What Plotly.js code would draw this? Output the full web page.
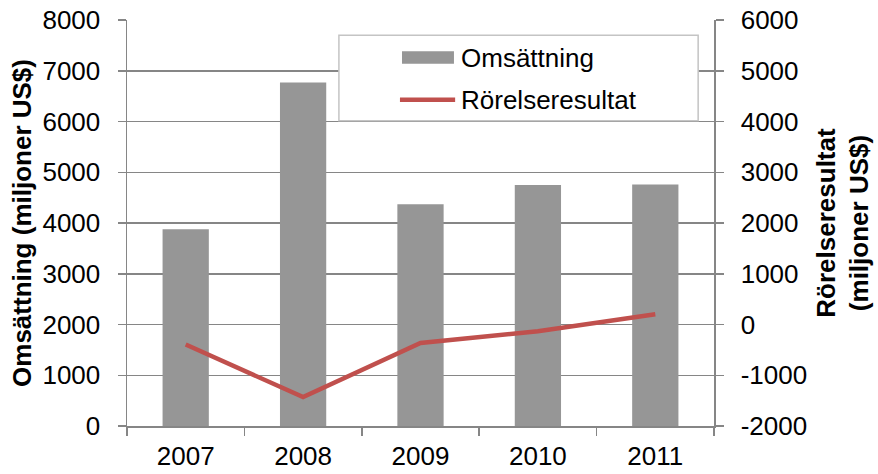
<!DOCTYPE html>
<html>
<head>
<meta charset="utf-8">
<script src="https://cdn.plot.ly/plotly-3.0.1.min.js"></script>
<style>html,body{margin:0;padding:0;background:#fff;}#chart{width:878px;height:474px;}</style>
</head>
<body>
<div id="chart"></div>
<script>
var years = ['2007', '2008', '2009', '2010', '2011'];
var omsattning = [3877, 6768, 4371, 4747, 4759];
var rorelseresultat = [-395, -1430, -363, -132, 203];
var leftTicks = [0, 1000, 2000, 3000, 4000, 5000, 6000, 7000, 8000];
var rightTicks = [-2000, -1000, 0, 1000, 2000, 3000, 4000, 5000, 6000];
var seriesNames = ['Omsättning', 'Rörelseresultat'];

var gray = '#868686';
var font = {family: 'Liberation Sans, Arial, sans-serif', size: 26, color: '#000'};

var traces = [
  {
    type: 'bar', x: years, y: omsattning, name: seriesNames[0],
    marker: {color: '#969696'}, yaxis: 'y', hoverinfo: 'skip', showlegend: false
  },
  {
    type: 'scatter', mode: 'lines', x: years, y: rorelseresultat, name: seriesNames[1],
    line: {color: '#C0504D', width: 4.5}, yaxis: 'y2', hoverinfo: 'skip', showlegend: false
  }
];

var layout = {
  width: 878, height: 474,
  margin: {l: 127, r: 164, t: 20, b: 48, pad: 0},
  paper_bgcolor: '#fff', plot_bgcolor: '#fff',
  font: font,
  bargap: 0.606,
  showlegend: false,
  xaxis: {
    type: 'category', tickson: 'boundaries', ticks: 'outside', ticklen: 8,
    tickcolor: gray, tickwidth: 1.5, showline: true, linecolor: gray, linewidth: 1.5,
    showgrid: false, tickfont: font, ticklabelstandoff: 6, fixedrange: true
  },
  yaxis: {
    range: [0, 8000], tickvals: leftTicks, ticktext: leftTicks.map(String),
    ticks: 'outside', ticklen: 8, tickcolor: gray, tickwidth: 1.5,
    showline: true, linecolor: gray, linewidth: 1.5,
    showgrid: true, gridcolor: gray, gridwidth: 1.5, zeroline: false,
    tickfont: font, ticklabelstandoff: 12,
    title: {text: '<b>Omsättning (miljoner US$)</b>', font: font, standoff: 3},
    fixedrange: true
  },
  yaxis2: {
    overlaying: 'y', side: 'right', range: [-2000, 6000],
    tickvals: rightTicks, ticktext: rightTicks.map(String),
    ticks: 'outside', ticklen: 8, tickcolor: gray, tickwidth: 1.5,
    showline: true, linecolor: gray, linewidth: 1.5,
    showgrid: false, zeroline: false,
    tickfont: font, ticklabelstandoff: 12,
    title: {text: '<b>Rörelseresultat<br>(miljoner US$)</b>', font: font, standoff: 10},
    fixedrange: true
  },
  shapes: [
    {type: 'rect', xref: 'paper', yref: 'paper', x0: 0.361, x1: 0.973, y0: 0.752, y1: 0.9625,
      fillcolor: '#fff', line: {color: '#c4c4c4', width: 1.5}, layer: 'above'},
    {type: 'rect', xref: 'paper', yref: 'paper', x0: 0.4685, x1: 0.557, y0: 0.892, y1: 0.923,
      fillcolor: '#969696', line: {width: 0}, layer: 'above'},
    {type: 'line', xref: 'paper', yref: 'paper', x0: 0.465, x1: 0.559, y0: 0.8037, y1: 0.8037,
      line: {color: '#C0504D', width: 4.5}, layer: 'above'}
  ],
  annotations: [
    {xref: 'paper', yref: 'paper', x: 0.5656, y: 0.9074, xanchor: 'left', yanchor: 'middle',
      text: seriesNames[0], showarrow: false, font: font},
    {xref: 'paper', yref: 'paper', x: 0.5656, y: 0.8037, xanchor: 'left', yanchor: 'middle',
      text: seriesNames[1], showarrow: false, font: font}
  ]
};

Plotly.newPlot('chart', traces, layout, {displayModeBar: false, staticPlot: true});
</script>
</body>
</html>
